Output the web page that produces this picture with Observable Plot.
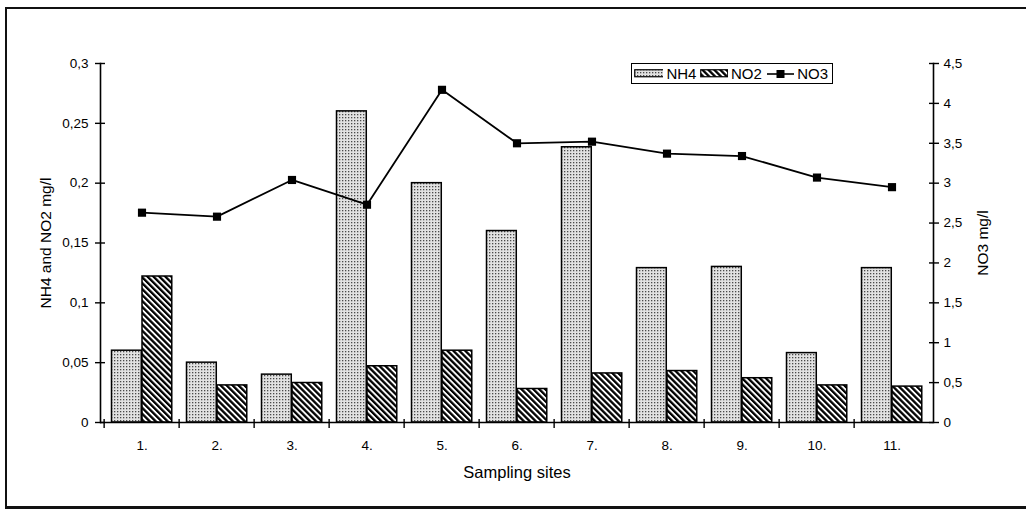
<!DOCTYPE html>
<html><head><meta charset="utf-8">
<script src="https://cdn.jsdelivr.net/npm/d3@7"></script>
<script src="https://cdn.jsdelivr.net/npm/@observablehq/plot@0.6"></script>
<style>
body{margin:0;background:#fff;font-family:"Liberation Sans",Arial,Helvetica,sans-serif;}
#wrap{position:relative;width:1026px;height:514px;overflow:hidden;background:#fff;}
#frame{position:absolute;left:5px;top:7px;width:1040px;height:497px;border:2px solid #111;border-bottom-width:3px;pointer-events:none;}
#legend{position:absolute;left:631px;top:63px;width:200px;height:19px;border:1.5px solid #000;background:#fff;display:flex;align-items:center;font-size:15px;color:#000;white-space:nowrap;}
#legend svg{display:block;}
#legend span{margin:0 4px 0 3px;}
</style></head>
<body>
<svg width="0" height="0" style="position:absolute">
<defs>
<pattern id="dots" width="3" height="3" patternUnits="userSpaceOnUse">
<rect width="3" height="3" fill="#e2e2e2"/>
<rect width="1.3" height="1.3" fill="#4a4a4a"/>
</pattern>
<pattern id="hatch" width="4.2" height="4.2" patternUnits="userSpaceOnUse" patternTransform="rotate(-45)">
<rect width="4.2" height="4.2" fill="#fff"/>
<rect width="2.3" height="4.2" fill="#000"/>
</pattern>
</defs>
</svg>
<div id="wrap"><div id="chart"></div><div id="frame"></div><div id="legend"></div></div>
<script>
// ---- data ----
const sites = ["1.", "2.", "3.", "4.", "5.", "6.", "7.", "8.", "9.", "10.", "11."];
const nh4 = [0.060, 0.050, 0.040, 0.260, 0.200, 0.160, 0.230, 0.129, 0.130, 0.058, 0.129];
const no2 = [0.122, 0.031, 0.033, 0.047, 0.060, 0.028, 0.041, 0.043, 0.037, 0.031, 0.030];
const no3 = [2.63, 2.58, 3.04, 2.73, 4.17, 3.50, 3.52, 3.37, 3.34, 3.07, 2.95];
const leftTicks = [0, 0.05, 0.1, 0.15, 0.2, 0.25, 0.3];
const rightTicks = [0, 0.5, 1, 1.5, 2, 2.5, 3, 3.5, 4, 4.5];
const seriesNames = ["NH4", "NO2", "NO3"];

// ---- layout ----
const W = 1026, H = 514, mL = 100, mR = 93, mT = 63, mB = 92;
const step = (W - mL - mR) / sites.length;
const barW = 30.5, gap = 7.5;
const leftMax = 0.3, rightMax = 4.5;
const k = leftMax / rightMax;
const fmt = v => String(v).replace(".", ",");
const font = '"Liberation Sans", Arial, Helvetica, sans-serif';
const fs = 13.5;

const data = sites.map((s, i) => ({site: s, nh4: nh4[i], no2: no2[i], no3: no3[i]}));

const plot = Plot.plot({
  width: W, height: H,
  marginLeft: mL, marginRight: mR, marginTop: mT, marginBottom: mB,
  style: {fontFamily: font, fontSize: "13.5px", color: "#000", background: "transparent", overflow: "visible"},
  x: {type: "band", domain: sites, padding: 0},
  y: {domain: [0, leftMax]},
  marks: [
    Plot.barY(data, {x: "site", y: "nh4", fill: "url(#dots)", stroke: "#000", strokeWidth: 1.5,
      insetLeft: gap, insetRight: step - gap - barW}),
    Plot.barY(data, {x: "site", y: "no2", fill: "url(#hatch)", stroke: "#000", strokeWidth: 1.5,
      insetLeft: gap + barW, insetRight: step - gap - 2 * barW}),
    Plot.ruleY([0], {strokeWidth: 1.6}),
    Plot.frame({anchor: "left", strokeWidth: 1.6}),
    Plot.frame({anchor: "right", strokeWidth: 1.6}),
    Plot.line(data, {x: "site", y: d => d.no3 * k, stroke: "#000", strokeWidth: 1.8}),
    Plot.dot(data, {x: "site", y: d => d.no3 * k, symbol: "square", r: 4.6, fill: "#000", stroke: null}),
    Plot.axisY(leftTicks, {anchor: "left", tickSize: 10, dx: 5, strokeWidth: 1.4, tickFormat: () => "", label: null}),
    Plot.axisY(leftTicks, {anchor: "left", tickSize: 0, tickPadding: 12, tickFormat: fmt, fontSize: fs, label: null}),
    Plot.axisY([], {anchor: "left", tickSize: 0, fontSize: 15.5,
      label: "NH4 and NO2 mg/l", labelAnchor: "center", labelArrow: "none", labelOffset: 61}),
    Plot.axisY(rightTicks.map(v => v * k), {anchor: "right", tickSize: 10, dx: -5, strokeWidth: 1.4, tickFormat: () => "", label: null}),
    Plot.axisY(rightTicks.map(v => v * k), {anchor: "right", tickSize: 0, tickPadding: 10, fontSize: fs,
      tickFormat: d => fmt(+(d / k).toFixed(1)), label: null}),
    Plot.axisY([], {anchor: "right", tickSize: 0, fontSize: 15.5,
      label: "NO3 mg/l", labelAnchor: "center", labelArrow: "none", labelOffset: 54}),
    Plot.axisX(sites, {anchor: "bottom", tickSize: 9, dx: -step / 2, dy: -3, strokeWidth: 1.4, tickFormat: () => "", label: null}),
    Plot.axisX(sites, {anchor: "bottom", tickSize: 0, tickPadding: 18, fontSize: fs, label: null}),
    Plot.axisX([], {anchor: "bottom", tickSize: 0, label: "Sampling sites", labelAnchor: "center",
      labelArrow: "none", labelOffset: 55, fontSize: 16.5})
  ]
});
document.getElementById("chart").appendChild(plot);

// ---- legend ----
const legend = document.getElementById("legend");
const swatch = name => {
  if (name === "NH4") return '<svg width="31" height="9" style="margin-left:2px"><rect x="0.75" y="0.75" width="29" height="7" fill="url(#dots)" stroke="#000" stroke-width="1.2"/></svg>';
  if (name === "NO2") return '<svg width="29" height="9"><rect x="0.75" y="0.75" width="27" height="7" fill="url(#hatch)" stroke="#000" stroke-width="1.2"/></svg>';
  return '<svg width="30" height="12"><line x1="1" x2="29" y1="6" y2="6" stroke="#000" stroke-width="1.6"/><rect x="10.5" y="2" width="8" height="8" fill="#000"/></svg>';
};
legend.innerHTML = seriesNames.map(n => swatch(n) + "<span>" + n + "</span>").join("");
</script>
</body></html>
